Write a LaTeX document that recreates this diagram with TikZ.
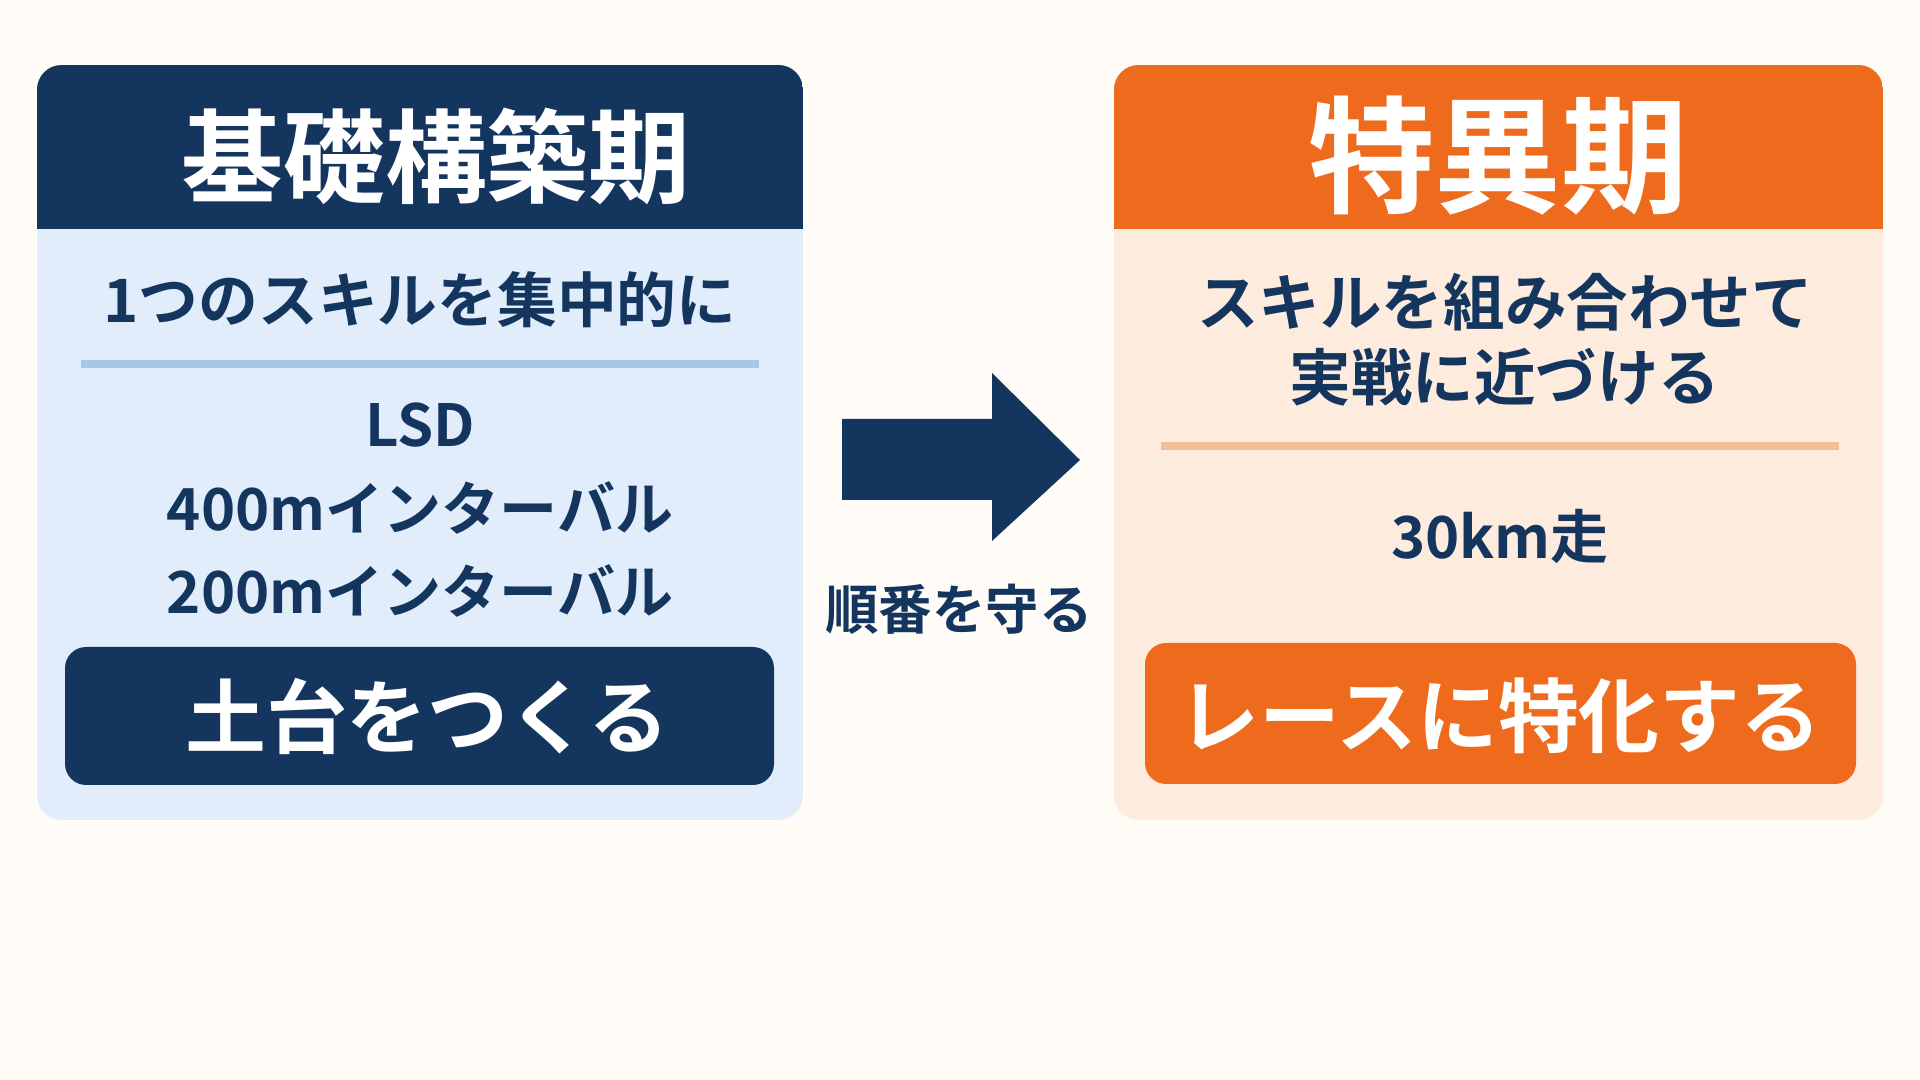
\documentclass[tikz,border=0pt]{standalone}
\usepackage{fontspec}
\setmainfont{Noto Sans CJK JP}[BoldFont={* Bold}]
\definecolor{navy}{HTML}{14365E}
\definecolor{orng}{HTML}{EE6B1E}
\definecolor{lblue}{HTML}{E1EDFA}
\definecolor{lorng}{HTML}{FDEBDD}
\definecolor{bg}{HTML}{FFFCF7}
\definecolor{dblue}{HTML}{A9C6E6}
\definecolor{dorng}{HTML}{F6BE95}
\begin{document}
\begin{tikzpicture}[x=0.01cm,y=-0.01cm,
  txt/.style={font=\bfseries\fontsize{16.5}{22}\selectfont, text=navy, align=center},
  ttl/.style={font=\bfseries\fontsize{29}{34}\selectfont, text=white},
  btn/.style={font=\bfseries\fontsize{23}{28}\selectfont, text=white}]
\fill[bg] (0,0) rectangle (1920,1080);
% left panel
\fill[lblue, rounded corners=7pt] (37,65) rectangle (803,820);
\begin{scope}
\clip[rounded corners=7pt] (37,65) rectangle (803,820);
\fill[navy] (37,65) rectangle (803,229);
\end{scope}
\node[ttl] (lt) at (436,156) {基礎構築期};
\node[txt, font=\bfseries\fontsize{17}{22}\selectfont] (l1) at (420,300) {1つのスキルを集中的に};
\draw[dblue, line width=2pt] (81,364) -- (759,364);
\node[txt] (l2) at (420,425) {LSD};
\node[txt] (l3) at (420,508) {400mインターバル};
\node[txt] (l4) at (420,591) {200mインターバル};
\fill[navy, rounded corners=6pt] (65,647) rectangle (774,785);
\node[btn] (lb) at (427,716) {土台をつくる};
% arrow
\fill[navy] (842,419) -- (992,419) -- (992,373) -- (1080,460) -- (992,541) -- (992,500) -- (842,500) -- cycle;
\node[font=\bfseries\fontsize{15.2}{20}\selectfont, text=navy] (ar) at (959,609) {順番を守る};
% right panel
\fill[lorng, rounded corners=7pt] (1114,65) rectangle (1883,820);
\begin{scope}
\clip[rounded corners=7pt] (1114,65) rectangle (1883,820);
\fill[orng] (1114,65) rectangle (1883,229);
\end{scope}
\node[ttl, font=\bfseries\fontsize{36}{42}\selectfont] (rt) at (1498,156) {特異期};
\node[txt, font=\bfseries\fontsize{17.5}{22}\selectfont] (r1) at (1505,302) {スキルを組み合わせて};
\node[txt, font=\bfseries\fontsize{17.5}{22}\selectfont] (r2) at (1505,377) {実戦に近づける};
\draw[dorng, line width=2pt] (1161,446) -- (1839,446);
\node[txt] (r3) at (1500,536) {30km走};
\fill[orng, rounded corners=6pt] (1145,643) rectangle (1856,784);
\node[btn] (rb) at (1500,716) {レースに特化する};
\end{tikzpicture}
\end{document}
